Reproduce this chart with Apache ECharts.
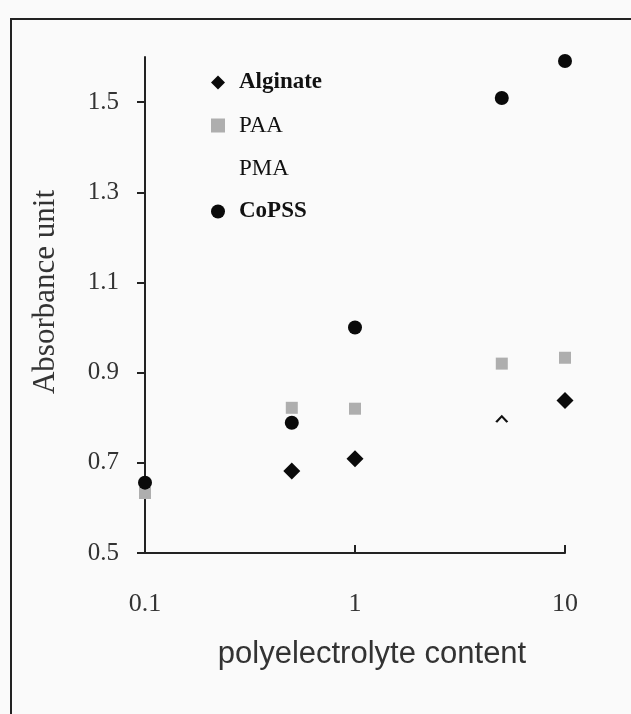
<!DOCTYPE html>
<html>
<head>
<meta charset="utf-8">
<script src="https://cdn.jsdelivr.net/npm/echarts@6/dist/echarts.min.js"></script>
<style>
html,body{margin:0;padding:0;background:#fafafa;}
#chart{width:631px;height:714px;}
</style>
</head>
<body>
<div id="chart"></div>
<script>
// Data
const seriesNames = ['Alginate', 'PAA', 'PMA', 'CoPSS'];
const alginate = [[0.5, 0.682], [1, 0.709], [10, 0.838]];
const paa = [[0.1, 0.633], [0.5, 0.822], [1, 0.820], [5, 0.920], [10, 0.933]];
const pma = [[5, 0.798]];
const copss = [[0.1, 0.656], [0.5, 0.789], [1, 1.000], [5, 1.509], [10, 1.591]];
const yTicks = [0.5, 0.7, 0.9, 1.1, 1.3, 1.5];
const xTicks = [0.1, 1, 10];

const chart = echarts.init(document.getElementById('chart'), null, {renderer: 'canvas'});
const serif = '"Liberation Serif", "DejaVu Serif", serif';
const sans = '"Liberation Sans", Arial, sans-serif';

chart.setOption({
  backgroundColor: '#fafafa',
  animation: false,
  grid: {left: 145, right: 66, top: 57, bottom: 161, containLabel: false},
  graphic: [{
    type: 'polyline',
    shape: {points: [[11, 714], [11, 19], [631, 19]]},
    style: {stroke: '#222', lineWidth: 2, fill: null},
    silent: true
  }],
  legend: {
    orient: 'vertical',
    left: 206,
    top: 66,
    itemGap: 20,
    itemWidth: 14,
    itemHeight: 14,
    textStyle: {fontFamily: serif, fontSize: 23, color: '#111', padding: [0, 0, 0, 9],
      rich: {b: {fontFamily: serif, fontSize: 23, fontWeight: 'bold', color: '#111'}}},
    formatter: function (n) { return (n === 'Alginate' || n === 'CoPSS') ? '{b|' + n + '}' : n; },
    data: [
      {name: 'Alginate', icon: 'diamond'},
      {name: 'PAA', icon: 'rect'},
      {name: 'PMA', icon: 'rect', itemStyle: {opacity: 0}},
      {name: 'CoPSS', icon: 'circle'}
    ]
  },
  xAxis: {
    type: 'log',
    logBase: 10,
    min: 0.1,
    max: 10,
    name: 'polyelectrolyte content',
    nameLocation: 'middle',
    nameGap: 86,
    nameTextStyle: {fontFamily: sans, fontSize: 31, color: '#333', padding: [0, 0, 0, 34]},
    axisLine: {lineStyle: {color: '#222', width: 2}},
    axisTick: {inside: true, length: 8, lineStyle: {color: '#222', width: 2}},
    minorTick: {show: false},
    axisLabel: {fontFamily: serif, fontSize: 26, color: '#333', margin: 38,
      formatter: function (v) { return String(v); }},
    splitLine: {show: false}
  },
  yAxis: {
    type: 'value',
    min: 0.5,
    max: 1.6,
    name: 'Absorbance unit',
    nameLocation: 'middle',
    nameGap: 84,
    nameTextStyle: {fontFamily: serif, fontSize: 31, color: '#333', padding: [0, 0, 0, 26]},
    axisLine: {show: true, lineStyle: {color: '#222', width: 2}},
    axisTick: {show: true, length: 8, customValues: yTicks, lineStyle: {color: '#222', width: 2}},
    axisLabel: {fontFamily: serif, fontSize: 25, color: '#333', margin: 26, customValues: yTicks,
      formatter: function (v) { return v.toFixed(1); }},
    splitLine: {show: false}
  },
  series: [
    {name: 'Alginate', type: 'scatter', data: alginate, symbol: 'diamond', symbolSize: 17,
      itemStyle: {color: '#0a0a0a', opacity: 1}},
    {name: 'PAA', type: 'scatter', data: paa, symbol: 'rect', symbolSize: 12,
      itemStyle: {color: '#aeaeae', opacity: 1}},
    {name: 'PMA', type: 'scatter', data: pma,
      symbol: 'path://M0,6 L6,0 L12,6 L10.3,7 L6,2.8 L1.7,7 Z', symbolSize: [13, 8],
      itemStyle: {color: '#111', opacity: 1}},
    {name: 'CoPSS', type: 'scatter', data: copss, symbol: 'circle', symbolSize: 14,
      itemStyle: {color: '#0a0a0a', opacity: 1}}
  ]
});
</script>
</body>
</html>
